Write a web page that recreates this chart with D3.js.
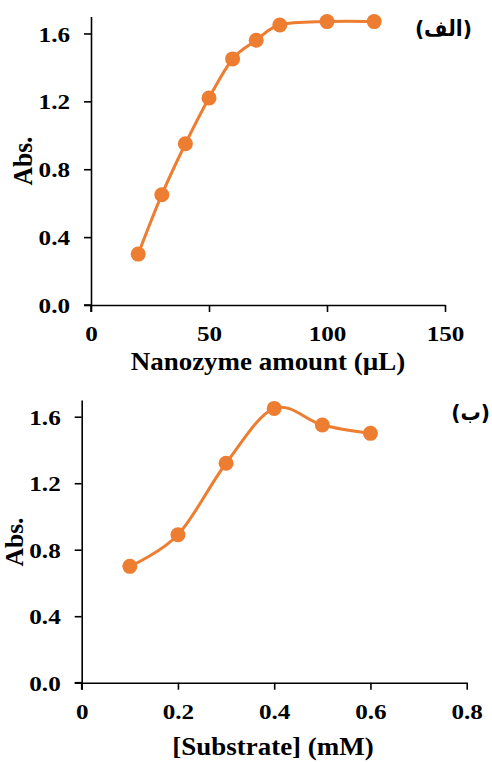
<!DOCTYPE html>
<html><head><meta charset="utf-8">
<script src="https://cdn.jsdelivr.net/npm/d3@7"></script>
<style>
html,body{margin:0;padding:0;background:#fff;}
svg{display:block;}
.tk text{font-family:"Liberation Serif","Times New Roman",serif;font-weight:bold;font-size:21.5px;fill:#000;}
.ttl{font-family:"Liberation Serif","Times New Roman",serif;font-weight:bold;font-size:24.5px;fill:#000;}
.ar{font-family:"DejaVu Sans",sans-serif;font-weight:bold;font-size:22px;fill:#000;}
</style></head>
<body>
<script>
// Panel A (الف): nanozyme amount
const amountX = [20, 30, 40, 50, 60, 70, 80, 100, 120];
const amountAbs = [0.30, 0.65, 0.95, 1.22, 1.45, 1.56, 1.65, 1.67, 1.67];
const amountTicks = [0, 50, 100, 150];
// Panel B (ب): substrate concentration
const substrateX = [0.1, 0.2, 0.3, 0.4, 0.5, 0.6];
const substrateAbs = [0.70, 0.89, 1.32, 1.65, 1.55, 1.50];
const substrateTicks = [0, 0.2, 0.4, 0.6, 0.8];
const absTicks = [0, 0.4, 0.8, 1.2, 1.6];

const W = 492, H = 762;
const color = "#ED7D31";
const SX = 1.17;   // horizontal stretch of tick labels
const TX = 1.1;    // horizontal stretch of axis titles
const svg = d3.select("body").append("svg").attr("width", W).attr("height", H);

function panel(cfg) {
  const x = d3.scaleLinear().domain(cfg.xDomain).range(cfg.xRange);
  const y = d3.scaleLinear().domain([0, 1.7]).range(cfg.yRange);
  const g = svg.append("g");

  const xa = g.append("g").attr("class", "tk")
    .attr("transform", `translate(0,${cfg.yRange[0]})`)
    .call(d3.axisBottom(x).tickValues(cfg.xTicks).tickSize(7).tickSizeOuter(0).tickFormat(cfg.xFmt));
  xa.selectAll("text").attr("y", 36).attr("dy", 0).attr("transform", `scale(${SX},1)`);
  xa.select(".domain").attr("stroke-width", 1.6);
  xa.selectAll(".tick line").attr("stroke-width", 1.6);

  const ya = g.append("g").attr("class", "tk")
    .attr("transform", `translate(${cfg.xRange[0]},0)`)
    .call(d3.axisLeft(y).tickValues(absTicks).tickSize(7).tickSizeOuter(0).tickFormat(d3.format(".1f")));
  ya.select(".domain").attr("stroke-width", 1.6);
  ya.selectAll(".tick line").attr("stroke-width", 1.6);
  ya.selectAll("text").attr("x", -21 / SX).attr("dy", "0.35em").attr("transform", `scale(${SX},1)`);
  // corner ticks at the origin
  g.append("line").attr("x1", cfg.xRange[0]).attr("x2", cfg.xRange[0])
    .attr("y1", cfg.yRange[0]).attr("y2", cfg.yRange[0] + 7)
    .attr("stroke", "#000").attr("stroke-width", 1.6);
  g.append("line").attr("x1", cfg.xRange[0] - 7).attr("x2", cfg.xRange[0])
    .attr("y1", cfg.yRange[0]).attr("y2", cfg.yRange[0])
    .attr("stroke", "#000").attr("stroke-width", 1.6);

  const pts = cfg.xs.map((v, i) => [v, cfg.ys[i]]);
  g.append("path").datum(pts)
    .attr("fill", "none").attr("stroke", color).attr("stroke-width", 3)
    .attr("d", d3.line().x(d => x(d[0])).y(d => y(d[1])).curve(d3.curveCardinal.tension(0)));
  g.selectAll("circle").data(pts).join("circle")
    .attr("cx", d => x(d[0])).attr("cy", d => y(d[1])).attr("r", 7.5).attr("fill", color);

  g.append("text").attr("class", "ttl").attr("text-anchor", "middle")
    .attr("transform", `translate(${cfg.xTitleX},${cfg.xTitleY}) scale(${TX},1)`).text(cfg.xTitle);
  g.append("text").attr("class", "ttl").attr("text-anchor", "middle").style("font-size", "25.5px")
    .attr("transform", `translate(${cfg.yTitleX},${cfg.yTitleY}) rotate(-90) scale(1,${cfg.yTitleS})`).text("Abs.");
  g.append("text").attr("class", "ar").attr("text-anchor", "end")
    .attr("transform", `translate(${cfg.labelX},${cfg.labelY}) scale(0.92,1)`).text(cfg.label);
}

panel({
  xs: amountX, ys: amountAbs, xDomain: [0, 150], xRange: [91, 445], yRange: [305, 16.5],
  xTicks: amountTicks, xFmt: d3.format("d"),
  xTitle: "Nanozyme amount (µL)", xTitleX: 268, xTitleY: 370,
  yTitleX: 32, yTitleY: 161, yTitleS: 1.1, label: "(الف)", labelX: 472, labelY: 36
});
panel({
  xs: substrateX, ys: substrateAbs, xDomain: [0, 0.8], xRange: [81.7, 466.7], yRange: [682.7, 400.1],
  xTicks: substrateTicks, xFmt: d => d === 0 ? "0" : d3.format(".1f")(d),
  xTitle: "[Substrate] (mM)", xTitleX: 273, xTitleY: 755,
  yTitleX: 22.5, yTitleY: 542, yTitleS: 1.0, label: "(ب)", labelX: 490, labelY: 420
});
</script>
</body></html>
